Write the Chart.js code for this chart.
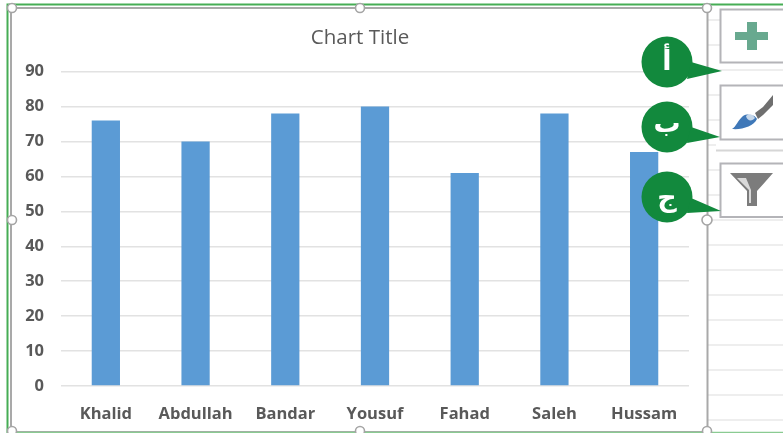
<!DOCTYPE html>
<html>
<head>
<meta charset="utf-8">
<title>Chart Title</title>
<script src="https://cdn.jsdelivr.net/npm/chart.js@4"></script>
<style>
    html, body { margin: 0; padding: 0; background: #fff; overflow: hidden; }
    #wrap { position: relative; width: 783px; height: 433px; }
    #myChart { position: absolute; left: 0; top: 0; }
    #frame { position: absolute; left: 0; top: 0; }
    .badge { font: bold 27px "Noto Sans", "DejaVu Sans", sans-serif; fill: #fff; text-anchor: middle; }
</style>
</head>
<body>
<div id="wrap">
    <canvas id="myChart" width="783" height="433"></canvas>
    <svg id="frame" width="783" height="433" viewBox="0 0 783 433">
        <!-- sheet rows to the right of the chart -->
        <g stroke="#dedede" stroke-width="1.2">
            <path d="M708 20H720M708 45H720M708 70H783M708 95H720M708 120H720M708 145H716M708 170H720M708 195H720M708 220H783"/>
            <path d="M708 245H783M708 270H783M708 295H783M708 320H783M708 345H783M708 370H783M708 395H783M708 420H783"/>
        </g>
        <!-- chart selection frame -->
        <rect x="11" y="8" width="696.5" height="424" fill="none" stroke="#a9a9a9" stroke-width="2"/>
        <path d="M7.5 433V4.5H783" fill="none" stroke="#46ad55" stroke-width="2"/>
        <path d="M8 432.5H783" fill="none" stroke="#8acb92" stroke-width="1.5"/>
        <g fill="#fff" stroke="#a5a5a5" stroke-width="1.6">
            <circle cx="12" cy="8" r="4.5"/><circle cx="360" cy="8" r="4.5"/><circle cx="707" cy="8" r="4.5"/>
            <circle cx="12" cy="220" r="4.5"/><circle cx="707" cy="220" r="5"/>
            <circle cx="12" cy="431" r="4.5"/><circle cx="360" cy="431" r="4.5"/><circle cx="707" cy="431" r="4.5"/>
        </g>
        <!-- side buttons -->
        <g fill="#fff" stroke="#b4b4b8" stroke-width="2">
            <path d="M784 9.5H720.5V62.5H784"/>
            <path d="M784 85.5H720.5V139.5H784"/>
            <path d="M784 163.5H720.5V217H784"/>
        </g>
        <path d="M716 150.5H783" stroke="#d6d6d6" stroke-width="2"/>
        <path d="M747 22H757V32H768V40H757V50H747V40H735V32H747Z" fill="#68a98f"/>
        <path d="M732 129C736 127 738 120 743 116C748 113 755 115 757 119C754 126 742 130 732 129Z" fill="#3f78b8"/>
        <path d="M746 116C749 113 753 114 755 118C752 122 747 121 746 116Z" fill="#fff" opacity="0.7"/>
        <path d="M755 113L763 107L773 95L773 105L763 115L758 119Z" fill="#6f6f6f"/>
        <path d="M730 173H773L757 191V206H747V191Z" fill="#7c7c7c"/>
        <path d="M737 178H746L751 190V203H749V190Z" fill="#d9d9d9"/>
        <!-- callouts -->
        <g fill="#12893d">
            <circle cx="667" cy="62" r="25.5"/><path d="M691 62L722 71L687 79Z"/>
            <circle cx="667" cy="127" r="25.5"/><path d="M691 127L720 137L687 143Z"/>
            <circle cx="667" cy="197" r="25.5"/><path d="M691 198L721 211L687 213Z"/>
        </g>
        <text class="badge" x="667" y="70">أ</text>
        <text class="badge" x="667" y="132">ب</text>
        <text class="badge" x="667" y="206">ج</text>
    </svg>
</div>
<script>
const categories = ['Khalid', 'Abdullah', 'Bandar', 'Yousuf', 'Fahad', 'Saleh', 'Hussam'];
const scores = [76, 70, 78, 80, 61, 78, 67];

const chartFont = '"Open Sans", "Noto Sans", sans-serif';

new Chart(document.getElementById('myChart'), {
    type: 'bar',
    data: {
        labels: categories,
        datasets: [{
            label: 'Series1',
            data: scores,
            backgroundColor: '#5b9bd5',
            categoryPercentage: 1,
            barPercentage: 0.315
        }]
    },
    options: {
        responsive: false,
        animation: false,
        // 720 wide so the title centres on the chart frame, spacer axis takes the rest
        layout: { padding: { left: 0, right: 63, top: 0, bottom: 0 } },
        scales: {
            y: {
                min: 0,
                max: 90,
                ticks: {
                    stepSize: 10,
                    color: '#595959',
                    padding: 17,
                    font: { family: chartFont, size: 16.5, weight: 'bold' }
                },
                grid: { color: '#e2e2e2', lineWidth: 1.5, drawTicks: false },
                border: { display: false },
                afterFit: s => { s.width = 61; }
            },
            spacer: {
                position: 'right',
                ticks: { display: false },
                grid: { display: false, drawTicks: false },
                border: { display: false },
                afterFit: s => { s.width = 31; }
            },
            x: {
                ticks: {
                    color: '#595959',
                    padding: 18,
                    maxRotation: 0,
                    font: { family: chartFont, size: 16.5, weight: 'bold' }
                },
                grid: { display: false, drawTicks: false },
                border: { display: false },
                afterFit: s => { s.height = 47; }
            }
        },
        plugins: {
            legend: { display: false },
            tooltip: { enabled: false },
            title: {
                display: true,
                text: 'Chart Title',
                color: '#595959',
                font: { family: chartFont, size: 20.5, weight: 'normal' },
                padding: { top: 25.5, bottom: 21.5 }
            }
        }
    }
});
</script>
</body>
</html>
